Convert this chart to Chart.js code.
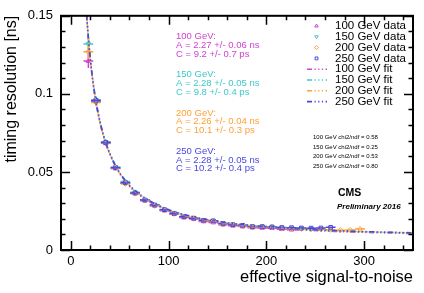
<!DOCTYPE html>
<html><head><meta charset="utf-8">
<style>html,body{margin:0;padding:0;background:#fff;overflow:hidden;}</style>
<script src="https://cdn.jsdelivr.net/npm/chart.js@4.4.1/dist/chart.umd.min.js"></script>
</head><body>
<canvas id="c" width="424" height="293"></canvas>
<script>
// ---------- data ----------
const xBins = [18, 25.8, 35.8, 45.8, 55.8, 65.8, 75.8, 85.8, 95.8, 105.8, 115.8, 125.8, 135.8, 145.8, 155.8, 165.8, 175.8, 185.8, 195.8, 205.8, 215.8, 225.8, 235.8, 245.8, 255.8, 265.8, 275.8, 285.8, 295.8];
const xErr = [5, 5, 5, 5, 5, 5, 5, 5, 5, 5, 5, 5, 5, 5, 5, 5, 5, 5, 5, 5, 5, 5, 5, 5, 5, 5, 5, 5, 5];
const yErr = [0.0045, 0.0022, 0.0015, 0.0012, 0.0011, 0.0010, 0.0009, 0.0008, 0.0008, 0.0007, 0.0007, 0.0006, 0.0006, 0.0006, 0.0006, 0.0005, 0.0005, 0.0005, 0.0005, 0.0005, 0.0005, 0.0005, 0.0005, 0.0005, 0.0005, 0.0005, 0.0005, 0.0005, 0.0005];

const y100 = [0.121, 0.0950, 0.0683, 0.0522, 0.0428, 0.0362, 0.0316, 0.0283, 0.0252, 0.0229, 0.0208, 0.0198, 0.0183, 0.0176, 0.0162, 0.0155, 0.0150, 0.0143, 0.0141, 0.0140, 0.0133, 0.0130];
const y150 = [0.132, 0.0962, 0.0693, 0.0532, 0.0438, 0.0370, 0.0322, 0.0290, 0.0260, 0.0236, 0.0215, 0.0205, 0.0192, 0.0184, 0.0170, 0.0163, 0.0158, 0.0151, 0.0150, 0.0147, 0.0142, 0.0140, 0.0138, 0.0136];
const y200 = [0.127, 0.0945, 0.0685, 0.0524, 0.0425, 0.0362, 0.0318, 0.0284, 0.0255, 0.0232, 0.0211, 0.0202, 0.0187, 0.0183, 0.0166, 0.0160, 0.0154, 0.0146, 0.0147, 0.0146, 0.0139, 0.0137, 0.0136, 0.0135, 0.0133, 0.0130, 0.0127, 0.0128, 0.0134];
const y250 = [null, 0.0958, 0.0688, 0.0527, 0.0430, 0.0365, 0.0320, 0.0288, 0.0258, 0.0235, 0.0213, 0.0204, 0.0190, 0.0187, 0.0170, 0.0162, 0.0158, 0.0150, 0.0150, 0.0148, 0.0144, 0.0143, 0.0141, 0.0140, 0.0141, 0.0145];

const fitX   = [14, 15, 16, 17, 18.5, 20, 22.5, 25.8, 30, 35.8, 45.8, 55.8, 65.8, 80, 100, 125, 150, 180, 220, 270, 350];
const fit100 = [0.1740, 0.1625, 0.1523, 0.1434, 0.1318, 0.1219, 0.1083, 0.0946, 0.0814, 0.0683, 0.0535, 0.0439, 0.0373, 0.0310, 0.0251, 0.0206, 0.0177, 0.0154, 0.0134, 0.0119, 0.0105];
const fit150 = [0.1748, 0.1632, 0.1530, 0.1440, 0.1324, 0.1225, 0.1089, 0.0952, 0.0819, 0.0688, 0.0540, 0.0444, 0.0379, 0.0316, 0.0256, 0.0211, 0.0182, 0.0158, 0.0138, 0.0122, 0.0108];
const fit200 = [0.1735, 0.1620, 0.1518, 0.1430, 0.1315, 0.1216, 0.1081, 0.0945, 0.0813, 0.0683, 0.0537, 0.0442, 0.0377, 0.0315, 0.0256, 0.0211, 0.0182, 0.0159, 0.0139, 0.0123, 0.0109];
const fit250 = [0.1745, 0.1629, 0.1527, 0.1438, 0.1322, 0.1223, 0.1087, 0.0950, 0.0818, 0.0687, 0.0540, 0.0445, 0.0380, 0.0317, 0.0258, 0.0213, 0.0184, 0.0160, 0.0140, 0.0124, 0.0110];

const energies = ['100 GeV', '150 GeV', '200 GeV', '250 GeV'];
const fitA = ['2.27 +/- 0.06', '2.28 +/- 0.05', '2.26 +/- 0.04', '2.28 +/- 0.05'];
const fitC = ['9.2 +/- 0.7', '9.8 +/- 0.4', '10.1 +/- 0.3', '10.2 +/- 0.4'];
const chi2 = ['0.58', '0.25', '0.53', '0.80'];

const xTicks = [0, 100, 200, 300];
const yTicks = [0, 0.05, 0.1, 0.15];
const yTickLabels = ['0', '0.05', '0.1', '0.15'];

// ---------- styling ----------
const FONT = '"Liberation Sans", Arial, Helvetica, sans-serif';
const colors = ['#d040d0', '#40c8c8', '#ffa035', '#4848e0'];
const markerStyles = [
  {pointStyle: 'triangle', rotation: 0},
  {pointStyle: 'triangle', rotation: 180},
  {pointStyle: 'rectRot', rotation: 0},
  {pointStyle: 'rect', rotation: 0}
];
const fitDash = [5, 2.5, 1.2, 2.5, 1.2, 2.5, 1.2, 2.5];

function pts(xs, ys) {
  const out = [];
  for (let i = 0; i < ys.length; i++) if (ys[i] !== null) out.push({x: xs[i], y: ys[i], i: i});
  return out;
}
const dataY = [y100, y150, y200, y250];
const fitY = [fit100, fit150, fit200, fit250];

const datasets = [];
dataY.forEach((ys, k) => {
  datasets.push({
    label: energies[k] + ' data', isData: true, sIdx: k,
    data: pts(xBins, ys), showLine: false,
    pointStyle: markerStyles[k].pointStyle, pointRotation: markerStyles[k].rotation,
    pointRadius: 2.6, pointBorderWidth: 1, borderColor: colors[k],
    backgroundColor: 'rgba(0,0,0,0)', order: 10 - k
  });
});
fitY.forEach((ys, k) => {
  datasets.push({
    label: energies[k] + ' fit', isData: false, sIdx: k,
    data: pts(fitX, ys), showLine: true, pointRadius: 0,
    borderColor: colors[k], borderWidth: 1.6, borderDash: fitDash,
    cubicInterpolationMode: 'monotone', fill: false, order: 5 - k
  });
});

const errorBars = {
  id: 'errorBars',
  beforeDatasetDraw(chart, args) {
    const ds = chart.data.datasets[args.index];
    if (!ds.isData) return;
    const ctx = chart.ctx, xs = chart.scales.x, ys = chart.scales.y, a = chart.chartArea;
    ctx.save();
    ctx.beginPath(); ctx.rect(a.left, a.top, a.right - a.left, a.bottom - a.top); ctx.clip();
    ctx.strokeStyle = colors[ds.sIdx]; ctx.lineWidth = 1.5;
    ds.data.forEach(p => {
      const px = xs.getPixelForValue(p.x), py = ys.getPixelForValue(p.y);
      const x0 = xs.getPixelForValue(p.x - xErr[p.i]), x1 = xs.getPixelForValue(p.x + xErr[p.i]);
      const y0 = ys.getPixelForValue(p.y - yErr[p.i]), y1 = ys.getPixelForValue(p.y + yErr[p.i]);
      ctx.beginPath();
      ctx.moveTo(x0, py); ctx.lineTo(x1, py);
      ctx.moveTo(px, y0); ctx.lineTo(px, y1);
      ctx.stroke();
    });
    ctx.restore();
  }
};

const frame = {
  id: 'frame',
  afterDraw(chart) {
    const ctx = chart.ctx, xs = chart.scales.x, ys = chart.scales.y;
    const {left, right, top, bottom} = chart.chartArea;
    ctx.save();
    ctx.strokeStyle = '#000'; ctx.lineWidth = 1.5;
    ctx.beginPath();
    for (let v = 0; v <= 340; v += 20) {
      const px = Math.round(xs.getPixelForValue(v)) + 0.5;
      const len = (v % 100 === 0) ? 9 : 4.5;
      ctx.moveTo(px, bottom); ctx.lineTo(px, bottom - len);
      ctx.moveTo(px, top); ctx.lineTo(px, top + len);
    }
    for (let k = 0; k <= 15; k++) {
      const py = Math.round(ys.getPixelForValue(k * 0.01)) + 0.5;
      const len = (k % 5 === 0) ? 9 : 4.5;
      ctx.moveTo(left, py); ctx.lineTo(left + len, py);
      ctx.moveTo(right, py); ctx.lineTo(right - len, py);
    }
    ctx.stroke();
    ctx.lineWidth = 2;
    ctx.strokeRect(left, top, right - left, bottom - top);
    ctx.restore();
  }
};

const texts = {
  id: 'texts',
  afterDraw(chart) {
    const ctx = chart.ctx;
    ctx.save();
    ctx.textBaseline = 'middle'; ctx.textAlign = 'left';
    // fit parameter blocks
    const blockY = [36.5, 74.8, 113, 151.2];
    for (let k = 0; k < 4; k++) {
      ctx.fillStyle = colors[k];
      ctx.font = '9.5px ' + FONT;
      ctx.fillText(energies[k] + ':', 176, blockY[k]);
      ctx.fillText('A = ' + fitA[k] + ' ns', 176, blockY[k] + 8.8);
      ctx.fillText('C = ' + fitC[k] + ' ps', 176, blockY[k] + 17.6);
    }
    // legend
    const rows = [26, 36.8, 47.6, 58.4, 69.2, 80, 90.8, 101.6];
    ctx.font = '11.5px ' + FONT;
    for (let k = 0; k < 4; k++) {
      ctx.fillStyle = '#000';
      ctx.fillText(energies[k] + ' data', 335, rows[k]);
      ctx.strokeStyle = colors[k]; ctx.fillStyle = 'rgba(0,0,0,0)';
      Chart.helpers.drawPoint(ctx, {pointStyle: markerStyles[k].pointStyle, rotation: markerStyles[k].rotation, radius: 2, borderWidth: 0.8}, 316.5, rows[k]);
    }
    for (let k = 0; k < 4; k++) {
      const y = rows[4 + k];
      ctx.fillStyle = '#000';
      ctx.fillText(energies[k] + ' fit', 335, y);
      ctx.strokeStyle = colors[k]; ctx.lineWidth = 1.6; ctx.setLineDash(fitDash);
      ctx.beginPath(); ctx.moveTo(307, y); ctx.lineTo(327, y); ctx.stroke();
      ctx.setLineDash([]);
    }
    // chi2
    ctx.fillStyle = '#000';
    ctx.font = '6px ' + FONT;
    const cy = [137.5, 147, 156.5, 166];
    for (let k = 0; k < 4; k++) ctx.fillText(energies[k] + ' chi2/ndf = ' + chi2[k], 313, cy[k]);
    // CMS
    ctx.font = 'bold 10.5px ' + FONT;
    ctx.fillText('CMS', 338, 193);
    ctx.font = 'italic bold 8px ' + FONT;
    ctx.fillText('Preliminary 2016', 337, 206.5);
    ctx.restore();
  }
};

new Chart(document.getElementById('c'), {
  type: 'scatter',
  data: {datasets},
  options: {
    responsive: false, animation: false, devicePixelRatio: 1,
    layout: {padding: {top: 11, right: 11, left: 0, bottom: 0}},
    plugins: {legend: {display: false}, tooltip: {enabled: false}},
    scales: {
      x: {
        type: 'linear', min: -10, max: 350,
        afterBuildTicks: s => { s.ticks = xTicks.map(v => ({value: v})); },
        afterFit: s => { s.height = 43; },
        grid: {display: false, drawTicks: false}, border: {display: false},
        ticks: {color: '#000', font: {family: FONT, size: 13}, padding: 4, maxRotation: 0, autoSkip: false},
        title: {display: true, text: 'effective signal-to-noise', align: 'end', color: '#000',
                font: {family: FONT, size: 16.5}, padding: {top: 0, bottom: 6}}
      },
      y: {
        type: 'linear', min: 0, max: 0.15,
        afterBuildTicks: s => { s.ticks = yTicks.map(v => ({value: v})); },
        afterFit: s => { s.width = 61; },
        grid: {display: false, drawTicks: false}, border: {display: false},
        ticks: {color: '#000', font: {family: FONT, size: 13}, padding: 8,
                callback: (v) => { const i = yTicks.findIndex(t => Math.abs(t - v) < 1e-9); return i >= 0 ? yTickLabels[i] : ''; }},
        title: {display: true, text: 'timing resolution [ns]', align: 'end', color: '#000',
                font: {family: FONT, size: 16}, padding: {top: 2, bottom: 0}}
      }
    }
  },
  plugins: [errorBars, frame, texts]
});
</script>
</body></html>
